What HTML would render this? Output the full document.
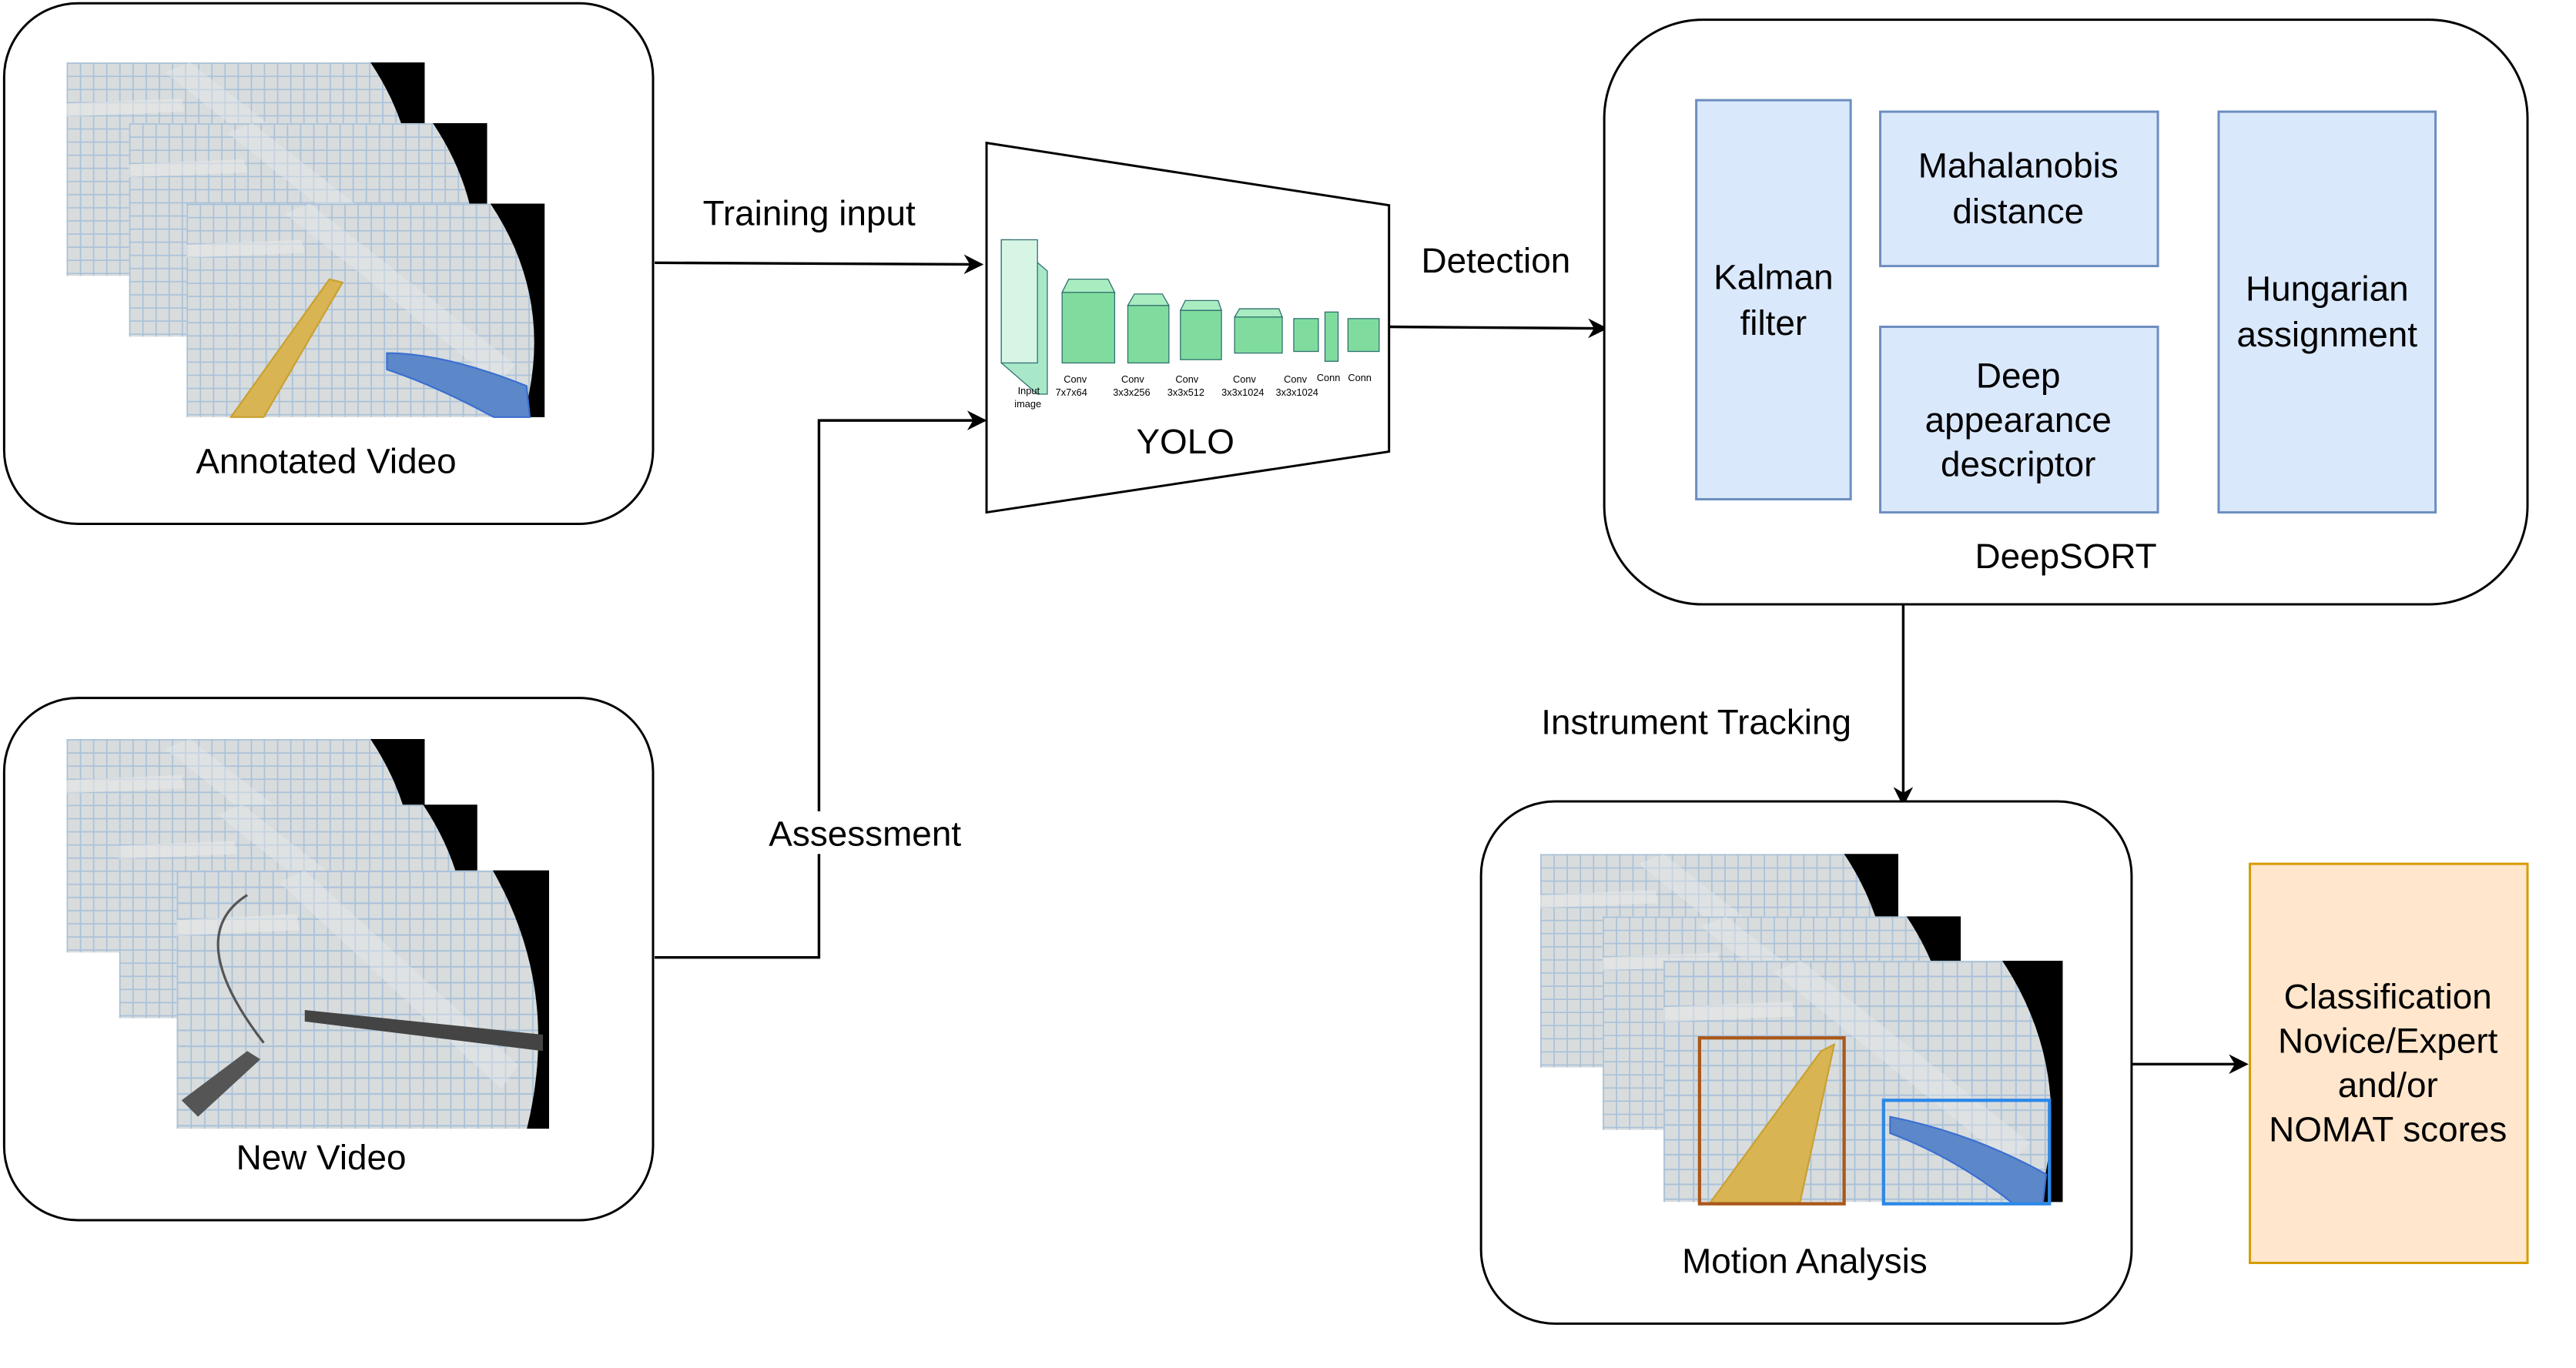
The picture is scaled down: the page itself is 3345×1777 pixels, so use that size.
<!DOCTYPE html>
<html><head><meta charset="utf-8"><style>
html,body{margin:0;padding:0;background:#fff;}
svg{display:block;}
text{font-family:"Liberation Sans",Arial,sans-serif;fill:#000;}
</style></head><body>
<svg width="3345" height="1777" viewBox="0 0 1567 833" xmlns="http://www.w3.org/2000/svg">
<defs>
<pattern id="grid" width="8" height="8" patternUnits="userSpaceOnUse">
<rect width="8" height="8" fill="#d9dcdd"/>
<path d="M0 0.5H8M0.5 0V8" stroke="#a9c2d9" stroke-width="0.8"/>
</pattern>
<marker id="ah" viewBox="0 0 10 10" refX="9" refY="5" markerWidth="12" markerHeight="12" orient="auto" markerUnits="userSpaceOnUse">
<path d="M0 0L10 5L0 10L3 5Z" fill="#000"/>
</marker>
<g id="photo">
<rect x="0" y="0" width="218" height="130" fill="url(#grid)"/>
<path d="M60 6 L190 110 L200 98 L75 0Z" fill="#e6e8ea" opacity="0.45"/>
<path d="M0 25 L70 22 L72 30 L0 33Z" fill="#e8e8e8" opacity="0.6"/>
<path d="M185 0 Q225 60 205 130 L218 130 L218 0Z" fill="#000"/>
</g>
</defs>

<rect x="2" y="2" width="395" height="317" rx="45" fill="#fff" stroke="#000" stroke-width="1.4"/>
<use href="#photo" x="40" y="38"/>
<use href="#photo" x="78" y="75"/>
<use href="#photo" x="113" y="124"/>
<path d="M140 254 L200 170 L208 172 L160 254Z" fill="#d8b453" stroke="#c9a030"/>
<path d="M235 215 Q270 215 320 235 L322 254 L300 254 Q265 235 235 225Z" fill="#5c87c9" stroke="#3a6fd0"/>
<text x="198" y="288" font-size="21.5" text-anchor="middle">Annotated Video</text>

<rect x="2" y="425" width="395" height="318" rx="45" fill="#fff" stroke="#000" stroke-width="1.4"/>
<use href="#photo" x="40" y="450"/>
<use href="#photo" x="72" y="490"/>
<g transform="translate(107 530) scale(1.04 1.21)"><use href="#photo"/></g>
<path d="M185 615 L330 630 L330 640 L185 622Z" fill="#444"/>
<path d="M110 670 L150 640 L158 645 L120 680Z" fill="#555"/>
<path d="M150 545 Q110 570 160 635" fill="none" stroke="#555" stroke-width="1.5"/>
<text x="195" y="712" font-size="21.5" text-anchor="middle">New Video</text>

<path d="M398 160 L597 161" stroke="#000" stroke-width="1.6" fill="none" marker-end="url(#ah)"/>
<text x="492" y="137" font-size="21.5" text-anchor="middle">Training input</text>
<path d="M398 583 L498 583 L498 256 L599 256" stroke="#000" stroke-width="1.6" fill="none" marker-end="url(#ah)"/>
<rect x="463" y="494" width="126" height="26" fill="#fff"/>
<text x="526" y="515" font-size="21.5" text-anchor="middle">Assessment</text>

<path d="M600 87 L845 125 L845 275 L600 312Z" fill="#fff" stroke="#000" stroke-width="1.4"/>
<g stroke="#2f6f6f" stroke-width="0.6">
<path d="M609 146 L615 146 L637 165 L637 240 L631 240 L609 221Z" fill="#a8e8c8"/>
<rect x="609" y="146" width="22" height="75" fill="#d7f5e5"/>
<rect x="646" y="178" width="32" height="43" fill="#7fdc9e"/>
<path d="M646 178 L650 170 L674 170 L678 178Z" fill="#a8ecc0"/>
<rect x="686" y="186" width="25" height="35" fill="#7fdc9e"/>
<path d="M686 186 L690 179 L707 179 L711 186Z" fill="#a8ecc0"/>
<rect x="718" y="189" width="25" height="30" fill="#7fdc9e"/>
<path d="M718 189 L721 183 L741 183 L743 189Z" fill="#a8ecc0"/>
<rect x="751" y="193" width="29" height="22" fill="#7fdc9e"/>
<path d="M751 193 L754 188 L778 188 L780 193Z" fill="#a8ecc0"/>
<rect x="787" y="194" width="15" height="20" fill="#7fdc9e"/>
<rect x="806" y="190" width="8" height="30" fill="#7fdc9e"/>
<rect x="820" y="194" width="19" height="20" fill="#7fdc9e"/>
</g>
<g font-size="6" fill="#235">
<text x="647" y="233">Conv</text><text x="642" y="241">7x7x64</text>
<text x="682" y="233">Conv</text><text x="677" y="241">3x3x256</text>
<text x="715" y="233">Conv</text><text x="710" y="241">3x3x512</text>
<text x="750" y="233">Conv</text><text x="743" y="241">3x3x1024</text>
<text x="781" y="233">Conv</text><text x="776" y="241">3x3x1024</text>
<text x="801" y="232">Conn</text><text x="820" y="232">Conn</text>
<text x="619" y="240">Input</text><text x="617" y="248">image</text>
</g>
<text x="721" y="276" font-size="21.5" text-anchor="middle">YOLO</text>

<path d="M845 199 L977 200" stroke="#000" stroke-width="1.6" fill="none" marker-end="url(#ah)"/>
<text x="910" y="166" font-size="21.5" text-anchor="middle">Detection</text>

<rect x="976" y="12" width="562" height="356" rx="60" fill="#fff" stroke="#000" stroke-width="1.4"/>
<g fill="#dae8fc" stroke="#6c8ebf" stroke-width="1.4">
<rect x="1032" y="61" width="94" height="243"/>
<rect x="1144" y="68" width="169" height="94"/>
<rect x="1144" y="199" width="169" height="113"/>
<rect x="1350" y="68" width="132" height="244"/>
</g>
<g font-size="21.5" text-anchor="middle">
<text x="1079" y="176">Kalman</text><text x="1079" y="204">filter</text>
<text x="1228" y="108">Mahalanobis</text><text x="1228" y="136">distance</text>
<text x="1228" y="236">Deep</text><text x="1228" y="263">appearance</text><text x="1228" y="290">descriptor</text>
<text x="1416" y="183">Hungarian</text><text x="1416" y="211">assignment</text>
<text x="1257" y="346">DeepSORT</text>
</g>

<path d="M1158 368 L1158 490" stroke="#000" stroke-width="1.6" fill="none" marker-end="url(#ah)"/>
<text x="1032" y="447" font-size="21.5" text-anchor="middle">Instrument Tracking</text>

<rect x="901" y="488" width="396" height="318" rx="45" fill="#fff" stroke="#000" stroke-width="1.4"/>
<use href="#photo" x="937" y="520"/>
<use href="#photo" x="975" y="558"/>
<g transform="translate(1012 585) scale(1.115 1.13)"><use href="#photo"/></g>
<path d="M1040 733 L1108 640 L1116 636 L1095 733Z" fill="#d8b453" stroke="#c9a030"/>
<path d="M1150 680 Q1200 690 1245 715 L1243 733 L1225 733 Q1190 705 1150 690Z" fill="#5c87c9" stroke="#3a6fd0"/>
<rect x="1034" y="632" width="88" height="101" fill="none" stroke="#a9581a" stroke-width="2"/>
<rect x="1146" y="670" width="101" height="63" fill="none" stroke="#2b88e8" stroke-width="2"/>
<text x="1098" y="775" font-size="21.5" text-anchor="middle">Motion Analysis</text>

<path d="M1297 648 L1367 648" stroke="#000" stroke-width="1.6" fill="none" marker-end="url(#ah)"/>

<rect x="1369" y="526" width="169" height="243" fill="#ffe6cc" stroke="#d79b00" stroke-width="1.4"/>
<g font-size="21.5" text-anchor="middle">
<text x="1453" y="614">Classification</text>
<text x="1453" y="641">Novice/Expert</text>
<text x="1453" y="668">and/or</text>
<text x="1453" y="695">NOMAT scores</text>
</g>
</svg>
</body></html>
